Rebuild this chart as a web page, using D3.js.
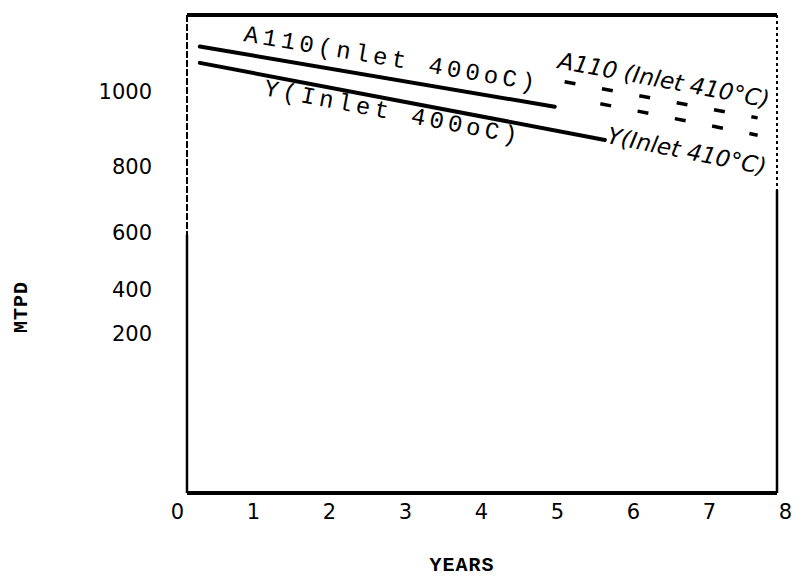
<!DOCTYPE html>
<html>
<head>
<meta charset="utf-8">
<style>
	body { margin: 0; background: #fff; }
	svg { position: absolute; top: 0px; left: 0px; }
	.frame { stroke: #000; fill: none; }
	.solid { fill: none; stroke: #000; stroke-width: 4px; stroke-linecap: round; }
	.dashed { fill: none; stroke: #000; stroke-width: 3.5px; stroke-dasharray: 11,27; }
	.typed { font-family: "Liberation Mono", "DejaVu Sans Mono", monospace; font-size: 24px; letter-spacing: 4.3px; fill: #000; }
	.hand { font-family: "DejaVu Sans", sans-serif; font-style: italic; font-size: 23px; fill: #000; }
	.tick text { font-family: "DejaVu Sans", sans-serif; font-size: 21px; fill: #000; }
	.title { font-family: "Liberation Mono", monospace; font-weight: bold; font-size: 20px; letter-spacing: 1px; fill: #000; }
</style>
<script src="https://cdnjs.cloudflare.com/ajax/libs/d3/7.8.5/d3.min.js"></script>
</head>
<body>
<svg width="810" height="577"></svg>
<script>
// values
var xTicks = [0, 1, 2, 3, 4, 5, 6, 7, 8];
var yTicks = [200, 400, 600, 800, 1000];
var yTickLabels = ["200", "400", "600", "800", "1000"];

var a110_400 = [[0.3, 1113], [4.97, 962]];
var y_400 = [[0.3, 1073], [5.63, 874]];
var a110_410 = [[5.1, 1026], [7.64, 933]];
var y_410 = [[5.57, 970], [7.64, 887]];

var seriesLabels = ["A110(nlet 400oC)", "Y(Inlet 400oC)", "A110 (Inlet 410°C)", "Y(Inlet 410°C)"];

var svg = d3.select("svg"),
	width = +svg.attr("width"),
	height = +svg.attr("height");

var frameL = 187, frameR = 777, frameT = 15, frameB = 493;

var x = d3.scaleLinear().domain([0, 8]).range([177, 785]);
// the hand drawn y axis is stretched towards the top
var y = d3.scalePow().exponent(1.47).domain([200, 1000]).range([334, 92]);

// frame
svg.append("line").attr("class", "frame").attr("x1", frameL).attr("y1", frameT).attr("x2", frameR).attr("y2", frameT).style("stroke-width", 4);
svg.append("line").attr("class", "frame").attr("x1", frameL).attr("y1", frameB).attr("x2", frameR).attr("y2", frameB).style("stroke-width", 4);
svg.append("line").attr("class", "frame").attr("x1", frameL).attr("y1", frameT).attr("x2", frameL).attr("y2", 235).style("stroke-width", 2).style("stroke-dasharray", "7,2");
svg.append("line").attr("class", "frame").attr("x1", frameL).attr("y1", 235).attr("x2", frameL).attr("y2", frameB).style("stroke-width", 2.5);
svg.append("line").attr("class", "frame").attr("x1", frameR).attr("y1", frameT).attr("x2", frameR).attr("y2", 190).style("stroke-width", 2).style("stroke-dasharray", "3,3");
svg.append("line").attr("class", "frame").attr("x1", frameR).attr("y1", 190).attr("x2", frameR).attr("y2", frameB).style("stroke-width", 2.5);

// axes
var xAxis = svg.append("g")
	.attr("transform", "translate(0," + frameB + ")")
	.call(d3.axisBottom(x).tickValues(xTicks).tickSize(0).tickPadding(11));
xAxis.select(".domain").remove();

var yAxis = svg.append("g")
	.attr("transform", "translate(" + frameL + ",0)")
	.call(d3.axisLeft(y).tickValues(yTicks).tickSize(0).tickPadding(35)
		.tickFormat(function(d, i) { return yTickLabels[i]; }));
yAxis.select(".domain").remove();

svg.append("text").attr("class", "title")
	.attr("x", 462).attr("y", 571).attr("text-anchor", "middle")
	.text("YEARS");
svg.append("text").attr("class", "title")
	.attr("transform", "translate(27,307) rotate(-90)").attr("text-anchor", "middle")
	.text("MTPD");

// lines
var line = d3.line()
	.x(function(d) { return x(d[0]); })
	.y(function(d) { return y(d[1]); });

svg.append("path").datum(a110_400).attr("class", "solid").attr("d", line);
svg.append("path").datum(y_400).attr("class", "solid").attr("d", line);
svg.append("path").datum(a110_410).attr("class", "dashed").attr("d", line);
svg.append("path").datum(y_410).attr("class", "dashed").attr("d", line);

// labels follow the slope of their line
function angle(s) {
	var p0 = s[0], p1 = s[s.length - 1];
	return Math.atan2(y(p1[1]) - y(p0[1]), x(p1[0]) - x(p0[0])) * 180 / Math.PI;
}

svg.append("text").attr("class", "typed")
	.attr("transform", "translate(243,41) rotate(" + angle(a110_400) + ")")
	.text(seriesLabels[0]);
svg.append("text").attr("class", "typed")
	.attr("transform", "translate(263,95) rotate(" + angle(y_400) + ")")
	.text(seriesLabels[1]);
svg.append("text").attr("class", "hand")
	.attr("transform", "translate(557,68) rotate(" + angle(a110_410) + ")")
	.text(seriesLabels[2]);
svg.append("text").attr("class", "hand")
	.attr("transform", "translate(606,143) rotate(" + angle(y_410) + ")")
	.text(seriesLabels[3]);
</script>
</body>
</html>
